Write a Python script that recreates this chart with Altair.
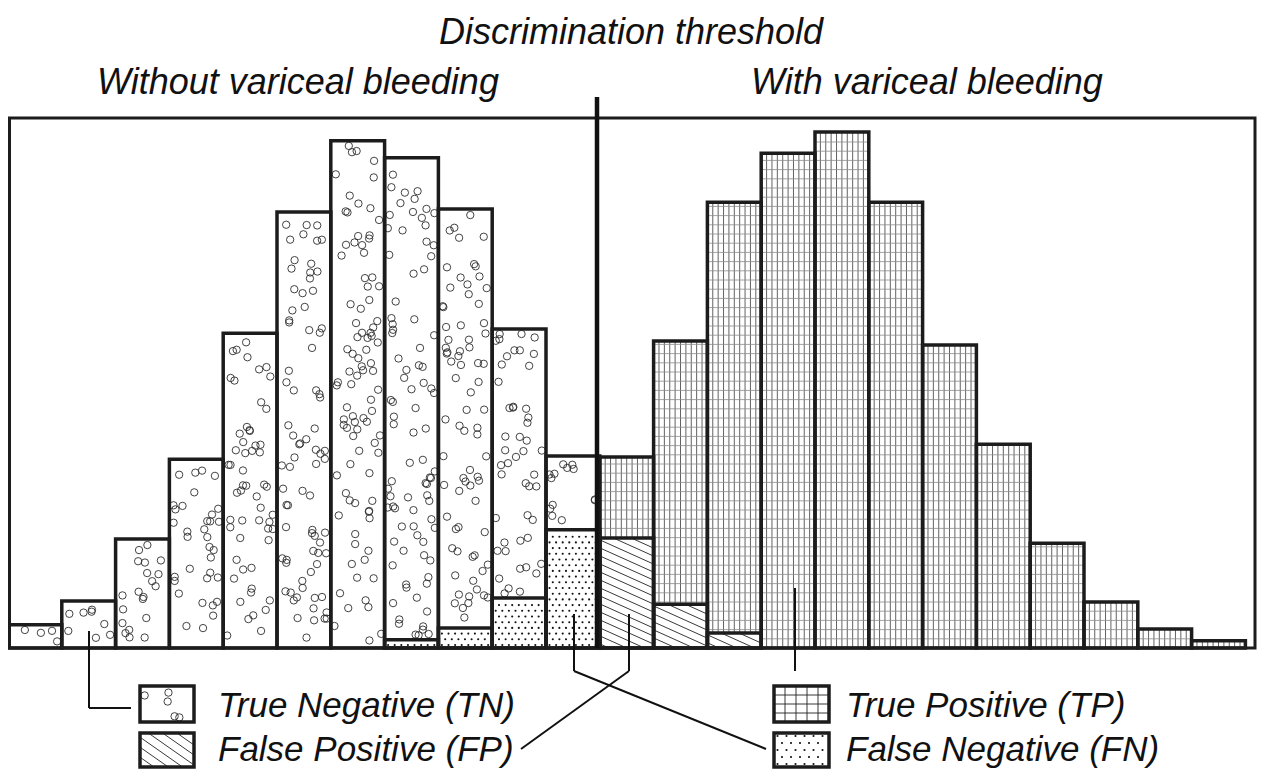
import math
import altair as alt
import pandas as pd

# ----------------------------- data -----------------------------
tn_bins = [0, 1, 2, 3, 4, 5, 6, 7, 8, 9, 10]
tn_values = [4.5, 9.1, 21.1, 36.6, 61.0, 84.5, 98.3, 95.0, 85.1, 61.8, 37.2]
fn_bins = [7, 8, 9, 10]
fn_values = [1.6, 3.9, 9.7, 22.9]
tp_bins = [11, 12, 13, 14, 15, 16, 17, 18, 19, 20, 21, 22]
tp_values = [37.0, 59.5, 86.4, 95.9, 100.0, 86.4, 58.7, 39.5, 20.3, 8.9, 3.7, 1.4]
fp_bins = [11, 12, 13]
fp_values = [21.3, 8.5, 2.9]
threshold_bin = 11

title_text = "Discrimination threshold"
group_labels = ["Without variceal bleeding", "With variceal bleeding"]
legend_labels = ["True Negative (TN)", "False Positive (FP)",
                 "True Positive (TP)", "False Negative (FN)"]

# ----------------------------- layout ---------------------------
W, H = 1257, 764
PXB = 53.8          # pixels per bin
PXU = 5.16          # pixels per frequency unit
BASE = 640.0        # baseline, plot pixels
OFF = 8             # page margin
XDOM = [0, W / PXB]
YDOM = [-(H - BASE) / PXU, BASE / PXU]
FONT = "Liberation Sans"
INK = "#1c1c1c"


def dx(p):
    return p / PXB


def dy(p):
    return (BASE - p) / PXU


def px(b):
    return b * PXB


def py(u):
    return BASE - u * PXU


def PX(page_x):
    return dx(page_x - OFF)


def PY(page_y):
    return dy(page_y - OFF)


def hsh(i, s):
    v = math.sin(i * 12.9898 + s * 78.233) * 43758.5453
    return v - math.floor(v)


# ---------------- texture generators (plot pixel space) ----------------
def circles(x0, x1, y0, y1, per_area, seed):
    out = []
    n = int(round((x1 - x0) * (y1 - y0) / per_area))
    for i in range(n):
        u, v = hsh(i + 1, seed), hsh(i + 1, seed + 0.37)
        out.append((x0 + 3 + u * (x1 - x0 - 6), y0 + 4 + v * (y1 - y0 - 8)))
    return out


def grid(x0, x1, y0, y1, gx, gy, ox, oy):
    vs, hs = [], []
    k = 0
    while ox + k * gx < x1 - 1.5:
        xv = ox + k * gx
        if xv > x0 + 1.5:
            vs.append((xv, y0, xv, y1))
        k += 1
    k = 0
    while oy - k * gy > y0 + 1.5:
        yv = oy - k * gy
        if yv < y1 - 1.5:
            hs.append((x0, yv, x1, yv))
        k += 1
    return vs, hs


def dots(x0, x1, y0, y1, sx, sy):
    out = []
    j = 0
    while y1 - 3 - j * sy > y0 + 2:
        yv = y1 - 3 - j * sy
        xv = x0 + 3.5 + (j % 2) * sx / 2
        while xv < x1 - 2:
            out.append((xv, yv))
            xv += sx
        j += 1
    return out


def hatch(x0, x1, y0, y1, slope, spacing):
    segs = []
    c = y0 - slope * (x1 - x0) + 2
    while c < y1:
        xa = max(x0, x0 + (y0 - c) / slope)
        xb = min(x1, x0 + (y1 - c) / slope)
        if xb - xa > 0.8:
            segs.append((xa, c + slope * (xa - x0), xb, c + slope * (xb - x0)))
        c += spacing
    return segs


# ---------------------------- build tables ----------------------------
fn_map = dict(zip(fn_bins, fn_values))
fp_map = dict(zip(fp_bins, fp_values))

circle_pts, dot_pts, dark_segs, mid_segs, light_segs, outlines = [], [], [], [], [], []

for b, v in zip(tn_bins, tn_values):
    low = fn_map.get(b, 0.0)
    circle_pts += circles(px(b), px(b + 1), py(v), py(low), 300, b + 0.5)
    outlines.append(dict(x=b, x2=b + 1, y=0, y2=v, w=3.5))
for b, v in zip(fn_bins, fn_values):
    dot_pts += dots(px(b), px(b + 1), py(v), py(0), 6.6, 5.7)
    outlines.append(dict(x=b, x2=b + 1, y=0, y2=v, w=3.5))
for b, v in zip(tp_bins, tp_values):
    low = fp_map.get(b, 0.0)
    vs, hs = grid(px(b), px(b + 1), py(v), py(low), 5.38, 9.2,
                  px(threshold_bin), BASE)
    mid_segs += vs
    light_segs += hs
    outlines.append(dict(x=b, x2=b + 1, y=0, y2=v, w=3.5))
for b, v in zip(fp_bins, fp_values):
    dark_segs += hatch(px(b), px(b + 1), py(v), py(0), 0.45, 8.0)
    outlines.append(dict(x=b, x2=b + 1, y=0, y2=v, w=3.5))

# legend swatches (page pixel boxes)
sw = {"TN": (140, 686, 194, 722), "FP": (140, 733, 194, 767),
      "TP": (774, 686, 829, 722), "FN": (774, 733, 829, 767)}
for key, (a, b_, c, d) in sw.items():
    x0, y0, x1, y1 = a - OFF, b_ - OFF, c - OFF, d - OFF
    if key == "TN":
        circle_pts += circles(x0, x1, y0, y1, 360, 3.3)
    elif key == "FP":
        dark_segs += hatch(x0, x1, y0, y1, 0.7, 10.0)
    elif key == "TP":
        vs, hs = grid(x0, x1, y0, y1, 11, 9, x0, y1)
        dark_segs += vs + hs
    else:
        dot_pts += dots(x0, x1, y0, y1, 9, 7)
    outlines.append(dict(x=dx(x0), x2=dx(x1), y=dy(y1), y2=dy(y0), w=3.5))

# frame
outlines.append(dict(x=PX(9.5), x2=PX(1255), y=PY(648), y2=PY(118), w=3))

circ_df = pd.DataFrame([dict(x=dx(a), y=dy(b)) for a, b in circle_pts])
dot_df = pd.DataFrame([dict(x=dx(a), y=dy(b)) for a, b in dot_pts])
seg_rows = [dict(x=dx(a), y=dy(b), x2=dx(c), y2=dy(d), c="#222222", w=0.9)
            for a, b, c, d in dark_segs]
seg_rows += [dict(x=dx(a), y=dy(b), x2=dx(c), y2=dy(d), c="#3a3a3a", w=0.8)
             for a, b, c, d in mid_segs]
seg_rows += [dict(x=dx(a), y=dy(b), x2=dx(c), y2=dy(d), c="#8a8a8a", w=0.8)
             for a, b, c, d in light_segs]
thin_df = pd.DataFrame(seg_rows)
out_df = pd.DataFrame(outlines)

# threshold and leader lines (page pixels)
lines = [
    (597, 97, 597, 648, 4.5),
    (89, 631, 89, 708, 2), (89, 708, 131, 708, 2),
    (574, 614, 574, 671, 2), (574, 671, 766, 749, 2),
    (629, 614, 629, 671, 2), (629, 671, 521, 749, 2),
    (795, 588, 795, 671, 2),
]
line_df = pd.DataFrame([dict(x=PX(a), y=PY(b), x2=PX(c), y2=PY(d), w=w)
                        for a, b, c, d, w in lines])

center_txt = pd.DataFrame([dict(t=title_text, x=PX(631), y=PY(44))])
head_txt = pd.DataFrame([dict(t=group_labels[0], x=PX(97), y=PY(94)),
                         dict(t=group_labels[1], x=PX(751), y=PY(94))])
leg_txt = pd.DataFrame([dict(t=legend_labels[0], x=PX(218), y=PY(717)),
                        dict(t=legend_labels[1], x=PX(218), y=PY(761)),
                        dict(t=legend_labels[2], x=PX(846), y=PY(717)),
                        dict(t=legend_labels[3], x=PX(846), y=PY(761))])

# ------------------------------ chart --------------------------------
xs = alt.Scale(domain=XDOM, nice=False, zero=False)
ys = alt.Scale(domain=YDOM, nice=False, zero=False)


def X():
    return alt.X("x:Q", scale=xs, axis=None)


def Y():
    return alt.Y("y:Q", scale=ys, axis=None)


circle_layer = alt.Chart(circ_df).mark_point(
    shape="circle", filled=False, size=54, strokeWidth=0.9, color="#2e2e2e", opacity=1
).encode(x=X(), y=Y())

dot_layer = alt.Chart(dot_df).mark_circle(size=4.5, color="#111111", opacity=1).encode(x=X(), y=Y())

thin_layer = alt.Chart(thin_df).mark_rule().encode(
    x=X(), x2=alt.X2("x2"), y=Y(), y2=alt.Y2("y2"),
    color=alt.Color("c:N", scale=None),
    strokeWidth=alt.StrokeWidth("w:Q", scale=None))

outline_layer = alt.Chart(out_df).mark_rect(
    fillOpacity=0, stroke=INK, strokeJoin="miter"
).encode(x=X(), x2=alt.X2("x2"), y=Y(), y2=alt.Y2("y2"),
         strokeWidth=alt.StrokeWidth("w:Q", scale=None))

line_layer = alt.Chart(line_df).mark_rule(color="#111111").encode(
    x=X(), x2=alt.X2("x2"), y=Y(), y2=alt.Y2("y2"),
    strokeWidth=alt.StrokeWidth("w:Q", scale=None))

title_layer = alt.Chart(center_txt).mark_text(
    align="center", baseline="alphabetic", font=FONT, fontStyle="italic",
    fontSize=36, color="#111111").encode(x=X(), y=Y(), text="t:N")

head_layer = alt.Chart(head_txt).mark_text(
    align="left", baseline="alphabetic", font=FONT, fontStyle="italic",
    fontSize=36, color="#111111").encode(x=X(), y=Y(), text="t:N")

leg_layer = alt.Chart(leg_txt).mark_text(
    align="left", baseline="alphabetic", font=FONT, fontStyle="italic",
    fontSize=35, color="#111111").encode(x=X(), y=Y(), text="t:N")

chart = alt.layer(
    circle_layer, thin_layer, dot_layer, outline_layer, line_layer,
    title_layer, head_layer, leg_layer
).properties(
    width=W, height=H, padding=0, autosize=alt.AutoSizeParams(type="none")
).configure_view(strokeWidth=0)

chart.save("out.html", embed_options={"renderer": "svg", "actions": False})
